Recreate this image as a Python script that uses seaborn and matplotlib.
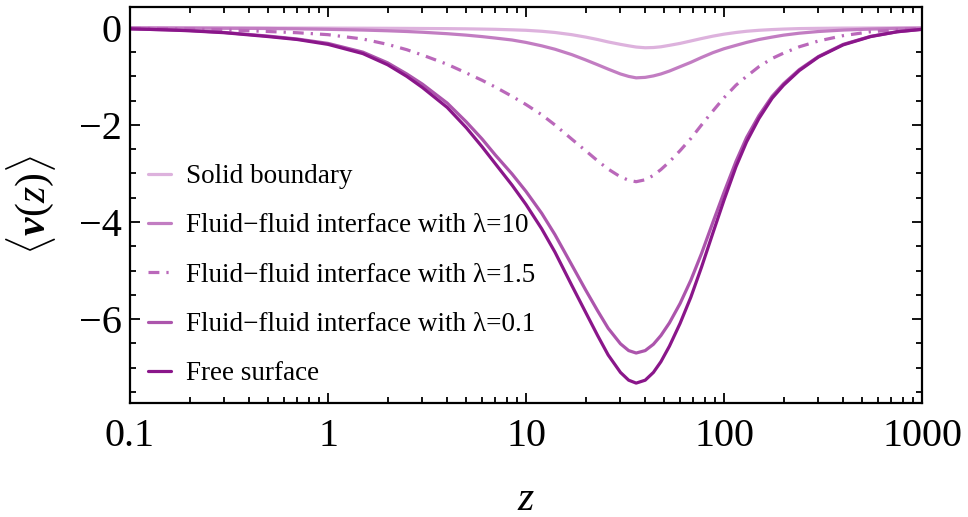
import numpy as np
import pandas as pd
import matplotlib
matplotlib.use("Agg")
import matplotlib.pyplot as plt
import seaborn as sns
from matplotlib.ticker import LogLocator, MultipleLocator, FixedLocator, NullFormatter

# values
z = [0.1, 0.15, 0.2, 0.3, 0.5, 0.7, 1, 1.5, 2, 2.5, 3, 4, 5, 6, 7, 8.5, 10, 12, 14,
     17, 20, 23, 26, 30, 33, 36, 40, 44, 48, 53, 60, 68, 77, 88, 100, 115, 130,
     150, 175, 200, 240, 300, 400, 550, 750, 1000]

solid = [0.0, 0.0, 0.0, -0.002, -0.003, -0.004, -0.005, -0.007, -0.009, -0.011,
         -0.013, -0.016, -0.02, -0.025, -0.03, -0.04, -0.05, -0.07, -0.095,
         -0.14, -0.19, -0.24, -0.29, -0.34, -0.37, -0.395, -0.41, -0.405, -0.39,
         -0.36, -0.32, -0.27, -0.22, -0.17, -0.13, -0.095, -0.07,
         -0.05, -0.035, -0.025, -0.015, -0.01, -0.005, -0.003, 0.0, 0.0]
lam10 = [0.0, -0.003, -0.005, -0.008, -0.013, -0.02, -0.03, -0.045, -0.06, -0.075,
         -0.09, -0.12, -0.15, -0.18, -0.21, -0.25, -0.30, -0.37, -0.44,
         -0.55, -0.66, -0.76, -0.85, -0.95, -1.00, -1.03, -1.02, -0.99, -0.95,
         -0.89, -0.80, -0.71, -0.61, -0.51, -0.43, -0.36, -0.30,
         -0.24, -0.19, -0.15, -0.11, -0.075, -0.045, -0.025, -0.012, -0.005]
lam15 = [-0.01, -0.015, -0.025, -0.04, -0.075, -0.10, -0.14, -0.23, -0.34, -0.45,
         -0.56, -0.75, -0.93, -1.08, -1.22, -1.41, -1.58, -1.79, -2.00,
         -2.29, -2.53, -2.74, -2.91, -3.07, -3.14, -3.17, -3.13, -3.04, -2.92,
         -2.76, -2.53, -2.28, -2.00, -1.71, -1.44, -1.18, -1.00,
         -0.80, -0.63, -0.52, -0.39, -0.27, -0.16, -0.08, -0.04, -0.01]
lam01 = [-0.02, -0.04, -0.055, -0.095, -0.17, -0.23, -0.32, -0.50, -0.72, -0.95,
         -1.16, -1.55, -1.94, -2.29, -2.62, -3.01, -3.37, -3.82, -4.26,
         -4.88, -5.40, -5.83, -6.19, -6.51, -6.65, -6.70, -6.65, -6.52, -6.34,
         -6.08, -5.68, -5.20, -4.65, -4.00, -3.39, -2.75, -2.26,
         -1.81, -1.41, -1.15, -0.86, -0.59, -0.34, -0.175, -0.08, -0.03]
free = [-0.02, -0.04, -0.06, -0.10, -0.18, -0.24, -0.34, -0.53, -0.76, -1.00,
        -1.23, -1.64, -2.06, -2.45, -2.80, -3.24, -3.64, -4.14, -4.62,
        -5.30, -5.86, -6.34, -6.74, -7.10, -7.26, -7.32, -7.26, -7.10, -6.88,
        -6.56, -6.09, -5.55, -4.93, -4.22, -3.55, -2.86, -2.35,
        -1.87, -1.45, -1.18, -0.88, -0.60, -0.35, -0.18, -0.08, -0.03]

labels = ["Solid boundary",
          "Fluid\u2212fluid interface with \u03bb=10",
          "Fluid\u2212fluid interface with \u03bb=1.5",
          "Fluid\u2212fluid interface with \u03bb=0.1",
          "Free surface"]
series = [solid, lam10, lam15, lam01, free]
colors = ["#DDB2DD", "#C27DC2", "#BA68BA", "#AC55AC", "#8A168A"]
styles = ["-", "-", (0, (3.4, 2.2, 0.7, 2.2)), "-", "-"]

sns.set_style("ticks")
plt.rcParams["font.family"] = ["Liberation Serif", "DejaVu Serif"]
plt.rcParams["text.color"] = "black"
plt.rcParams["axes.labelcolor"] = "black"
plt.rcParams["mathtext.fontset"] = "custom"
plt.rcParams["mathtext.rm"] = "Liberation Serif"
plt.rcParams["mathtext.it"] = "Liberation Serif:italic"
plt.rcParams["mathtext.bf"] = "Liberation Serif:bold:italic"

fig = plt.figure(figsize=(9.68, 5.17), dpi=100)
ax = fig.add_axes([130 / 968, 1 - 403 / 517, 792 / 968, 396 / 517])

for vals, lab, col, ls in zip(series, labels, colors, styles):
    df = pd.DataFrame({"z": z, "v": vals})
    sns.lineplot(data=df, x="z", y="v", ax=ax, color=col, linewidth=2.3,
                 linestyle=ls, label=lab)

ax.set_xscale("log")
ax.set_xlim(0.1, 1000)
ax.set_ylim(-7.73, 0.43)

ax.xaxis.set_major_locator(FixedLocator([0.1, 1, 10, 100, 1000]))
ax.set_xticklabels(["0.1", "1", "10", "100", "1000"])
ax.xaxis.set_minor_locator(LogLocator(base=10, subs=np.arange(2, 10), numticks=20))
ax.xaxis.set_minor_formatter(NullFormatter())
ax.yaxis.set_minor_locator(MultipleLocator(0.5))
ax.set_yticks([0, -2, -4, -6])
ax.set_yticklabels(["0", "\u22122", "\u22124", "\u22126"])

ax.tick_params(which="both", direction="in", top=True, right=True, width=1.3, colors="black")
ax.tick_params(which="major", length=7, labelsize=29, pad=6)
ax.tick_params(axis="x", which="major", pad=11)
ax.tick_params(which="minor", length=4)
for sp in ax.spines.values():
    sp.set_linewidth(1.6)
    sp.set_color("black")

ax.set_xlabel("$z$", fontsize=30, labelpad=18)
ax.set_ylabel(r"$\langle\mathbf{v}(z)\rangle$", fontsize=30, labelpad=15)

leg = ax.legend(loc="upper left", bbox_to_anchor=(148 / 968, 1 - 164 / 517),
                bbox_transform=fig.transFigure, frameon=False, fontsize=19.5,
                handlelength=0.85, handletextpad=0.55, labelspacing=0.9,
                borderaxespad=0, borderpad=0)

fig.savefig("out.png", dpi=100)
